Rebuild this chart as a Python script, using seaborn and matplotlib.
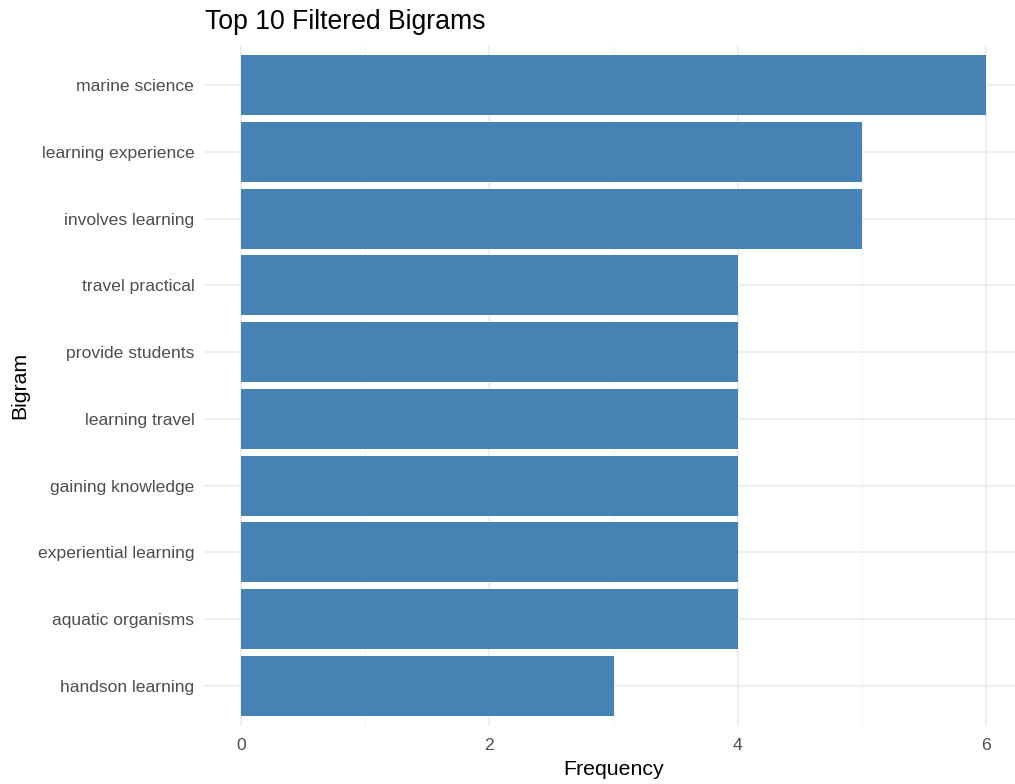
import seaborn as sns
import matplotlib.pyplot as plt
import pandas as pd

bigrams = ['marine science', 'learning experience', 'involves learning', 'travel practical',
           'provide students', 'learning travel', 'gaining knowledge', 'experiential learning',
           'aquatic organisms', 'handson learning']
freq = [6, 5, 5, 4, 4, 4, 4, 4, 4, 3]

df = pd.DataFrame({'bigram': bigrams, 'n': freq})

sns.set_theme(style="whitegrid")
plt.rcParams['font.family'] = ['Liberation Sans', 'DejaVu Sans']

fig = plt.figure(figsize=(10.15, 7.84), dpi=100)
ax = fig.add_axes([204 / 1015, 58 / 784, 819 / 1015, 681 / 784])

sns.barplot(data=df, x='n', y='bigram', orient='h', color='#4682B4',
            width=0.9, saturation=1, linewidth=0, ax=ax)

ax.set_xlim(-0.3, 6.3)
ax.set_ylim(9.6, -0.6)
ax.set_xticks([0, 2, 4, 6])
ax.set_xticks([1, 3, 5], minor=True)
ax.grid(True, which='major', color='#EBEBEB', linewidth=1.1)
ax.grid(True, which='minor', axis='x', color='#F2F2F2', linewidth=0.7)
ax.set_axisbelow(True)
for s in ax.spines.values():
    s.set_visible(False)
ax.tick_params(which='both', length=0, colors='#4D4D4D', labelsize=12.6)
ax.tick_params(axis='y', pad=7)
ax.tick_params(axis='x', pad=9)

ax.set_xlabel('Frequency', fontsize=15.3, color='black', labelpad=5)
ax.set_ylabel('Bigram', fontsize=15.3, color='black', labelpad=6)
fig.text(205 / 1015, 1 - 22 / 784, 'Top 10 Filtered Bigrams', fontsize=19.2,
         ha='left', va='center', color='black')

fig.savefig('out.png', dpi=100)
